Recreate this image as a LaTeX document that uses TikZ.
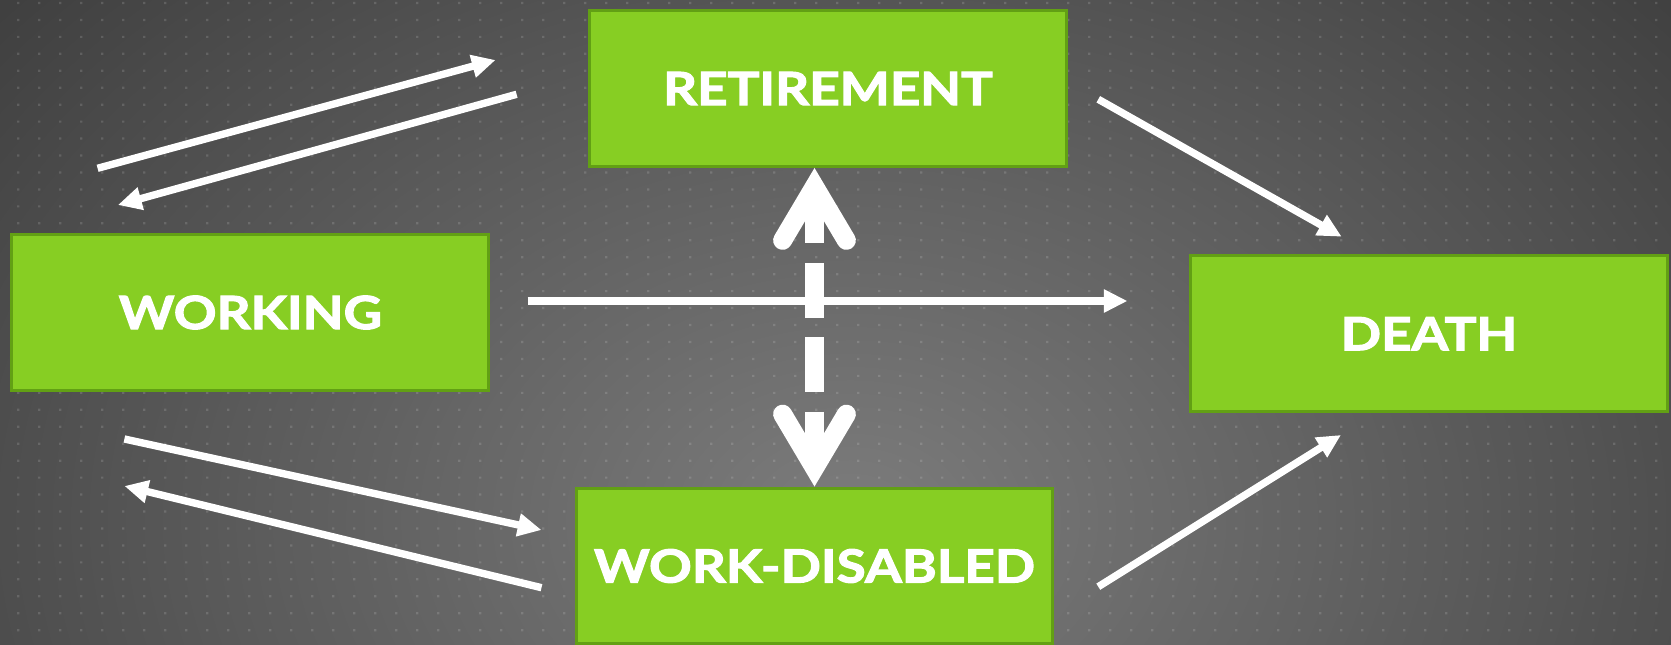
\documentclass[tikz,border=0pt]{standalone}
\usepackage{fontspec}
\setmainfont{Lato}[FakeStretch=1.16,BoldFeatures={FakeBold=2.5}]
\usetikzlibrary{arrows.meta}
\tikzset{>=Triangle}
\definecolor{stagegreen}{RGB}{135,206,35}
\definecolor{stageedge}{RGB}{98,160,20}
\definecolor{bgmid}{RGB}{124,124,124}
\definecolor{bgdark}{RGB}{64,64,64}
\tikzstyle{stage}=[rectangle,draw=stageedge,fill=stagegreen,line width=1.7pt,minimum width=9.54cm,minimum height=3.12cm,text=white,font=\fontsize{26}{30}\selectfont\bfseries]
\tikzstyle{move}=[draw=white,line width=4.2pt,-{Triangle[length=13.5pt,width=12.5pt]}]
\tikzstyle{bothway}=[draw=white,line width=10.8pt,dash pattern=on 31.2pt off 11.2pt,dash phase=4.3pt,
  {Straight Barb[length=30.6pt,width=36.3pt,line cap=round,line join=miter]}-{Straight Barb[length=30.6pt,width=36.3pt,line cap=round,line join=miter]}]

\begin{document}
\begin{tikzpicture}[x=0.02cm,y=-0.02cm]
	\def \dx {21};
	\def \dy {16.95};

	\useasboundingbox (0,0) rectangle (1671,645);
	\shade[inner color=bgmid,outer color=bgdark] (-250,-280) rectangle (1950,1320);
	% dotted grid
	\fill[white,opacity=0.14] \foreach \i in {0,...,78} {
		\foreach \j in {0,...,37} {
			(17.2+\i*\dx,1.9+\j*\dy) rectangle ++(2.2,2.2)
		}
	};

	\node[stage] (ret) at (828,88.5) {RETIREMENT};
	\node[stage] (work) at (250.4,312.5) {WORKING};
	\node[stage] (death) at (1429,333.7) {DEATH};
	\node[stage] (dis) at (814.5,566) {WORK-DISABLED};

	\coordinate (workretS) at (97.6,168.3);
	\coordinate (workretE) at (495.6,60);
	\coordinate (retworkS) at (516.6,94.3);
	\coordinate (retworkE) at (117.9,205);
	\coordinate (workdisS) at (124.4,439);
	\coordinate (workdisE) at (541.5,530);
	\coordinate (disworkS) at (541.5,587.7);
	\coordinate (disworkE) at (124.4,486);
	\coordinate (retdeathS) at (1098.3,99.3);
	\coordinate (retdeathE) at (1341.7,236.7);
	\coordinate (disdeathS) at (1098.3,586.7);
	\coordinate (disdeathE) at (1341,435);
	\coordinate (workdeathS) at (527.5,301);
	\coordinate (workdeathE) at (1127.5,301);

	\draw[move] (workretS) -- (workretE);
	\draw[move] (retworkS) -- (retworkE);
	\draw[move] (workdisS) -- (workdisE);
	\draw[move] (disworkS) -- (disworkE);
	\draw[move] (retdeathS) -- (retdeathE);
	\draw[move] (disdeathS) -- (disdeathE);
	\draw[move] (workdeathS) -- (workdeathE);

	\draw[bothway] (ret.south -| dis.north) -- (dis.north);
\end{tikzpicture}
\end{document}
